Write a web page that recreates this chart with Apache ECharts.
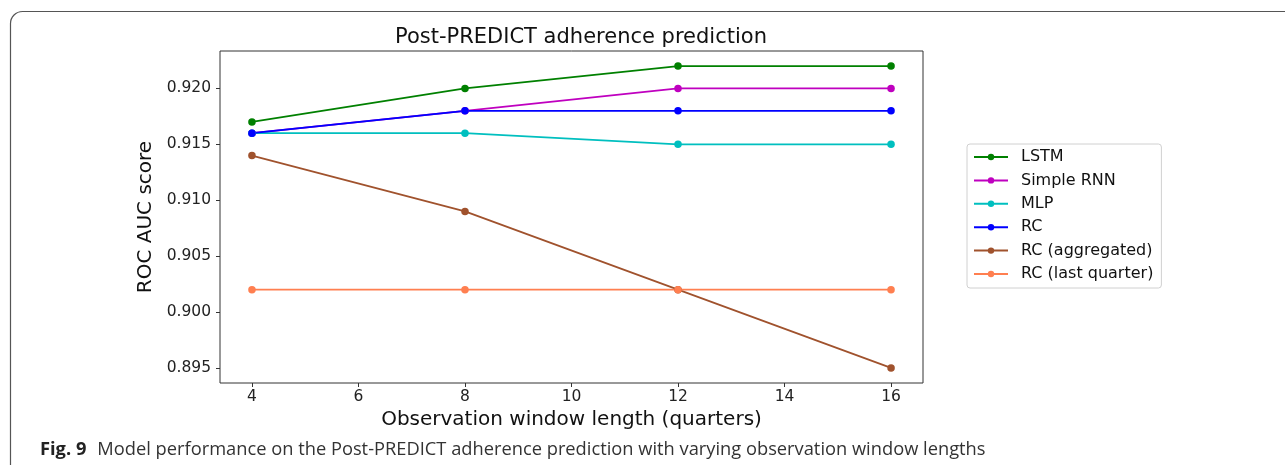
<!DOCTYPE html>
<html>
<head>
<meta charset="utf-8">
<script src="https://cdn.jsdelivr.net/npm/echarts@6/dist/echarts.min.js"></script>
<style>
  html, body { margin: 0; padding: 0; background: #fff; }
  #chart { width: 1285px; height: 465px; }
</style>
</head>
<body>
<div id="chart"></div>
<script>
// ---- data ----
var windowLengths = [4, 8, 12, 16];
var seriesNames = ['LSTM', 'Simple RNN', 'MLP', 'RC', 'RC (aggregated)', 'RC (last quarter)'];
var lstm        = [0.917, 0.920, 0.922, 0.922];
var simpleRnn   = [0.916, 0.918, 0.920, 0.920];
var mlp         = [0.916, 0.916, 0.915, 0.915];
var rc          = [0.916, 0.918, 0.918, 0.918];
var rcAgg       = [0.914, 0.909, 0.902, 0.895];
var rcLast      = [0.902, 0.902, 0.902, 0.902];
var xTicks = [4, 6, 8, 10, 12, 14, 16];
var yTicks = [0.895, 0.900, 0.905, 0.910, 0.915, 0.920];
var seriesColors = ['#008000', '#bf00bf', '#00bfbf', '#0000ff', '#a0522d', '#ff7f50'];
var seriesValues = [lstm, simpleRnn, mlp, rc, rcAgg, rcLast];

var chart = echarts.init(document.getElementById('chart'), null, { renderer: 'canvas' });

function pairs(vals) {
  return windowLengths.map(function (x, i) { return [x, vals[i]]; });
}

var series = seriesNames.map(function (name, i) {
  return {
    name: name,
    type: 'line',
    data: pairs(seriesValues[i]),
    symbol: 'circle',
    symbolSize: 7.5,
    showSymbol: true,
    clip: false,
    color: seriesColors[i],
    lineStyle: { color: seriesColors[i], width: 1.8 },
    itemStyle: { color: seriesColors[i] },
    emphasis: { disabled: true },
    animation: false
  };
});

var tickColor = '#333';
var dejavu = 'DejaVu Sans';

chart.setOption({
  animation: false,
  backgroundColor: '#fff',
  title: [
    {
      text: 'Post-PREDICT adherence prediction',
      left: 576,
      top: 22,
      textAlign: 'center',
      textStyle: { fontFamily: dejavu, fontSize: 21, fontWeight: 'normal', color: '#111' }
    },
    {
      text: '{b|Fig. 9}{n|Model performance on the Post-PREDICT adherence prediction with varying observation window lengths}',
      left: 35,
      top: 436,
      textStyle: {
        rich: {
          b: { fontFamily: 'Open Sans', fontSize: 18.3, fontWeight: 'bold', color: '#222', padding: [0, 11, 0, 0] },
          n: { fontFamily: 'Open Sans', fontSize: 18.3, fontWeight: 'normal', color: '#333' }
        }
      }
    }
  ],
  grid: {
    left: 220, top: 51, right: 362, bottom: 82,
    show: true, borderColor: tickColor, borderWidth: 1, backgroundColor: 'transparent'
  },
  legend: {
    orient: 'vertical',
    left: 967,
    top: 144,
    data: seriesNames,
    itemWidth: 34,
    itemHeight: 8,
    itemGap: 7.4,
    padding: [5, 8, 6, 6],
    borderColor: '#d0d0d0',
    borderWidth: 1,
    borderRadius: 3,
    backgroundColor: '#fff',
    selectedMode: false,
    textStyle: { fontFamily: dejavu, fontSize: 16, color: '#111', lineHeight: 16, padding: [0, 0, 0, 8] }
  },
  xAxis: {
    type: 'value',
    min: 3.4,
    max: 16.6,
    name: 'Observation window length (quarters)',
    nameLocation: 'middle',
    nameGap: 25,
    nameTextStyle: { fontFamily: dejavu, fontSize: 20, color: '#111' },
    axisLine: { show: false },
    splitLine: { show: false },
    axisTick: { show: true, length: 4, lineStyle: { color: tickColor, width: 1 }, customValues: xTicks },
    axisLabel: {
      customValues: xTicks,
      margin: 6,
      fontFamily: dejavu, fontSize: 15.5, color: '#222',
      formatter: function (v) { return String(v); }
    }
  },
  yAxis: {
    type: 'value',
    min: 0.89365,
    max: 0.92335,
    name: 'ROC AUC score',
    nameLocation: 'middle',
    nameGap: 56,
    nameTextStyle: { fontFamily: dejavu, fontSize: 20, color: '#111' },
    axisLine: { show: false },
    splitLine: { show: false },
    axisTick: { show: true, length: 4, lineStyle: { color: tickColor, width: 1 }, customValues: yTicks },
    axisLabel: {
      customValues: yTicks,
      margin: 9,
      fontFamily: dejavu, fontSize: 15.5, color: '#222',
      formatter: function (v) { return v.toFixed(3); }
    }
  },
  graphic: [
    {
      type: 'rect',
      silent: true,
      z: -1,
      shape: { x: 10.5, y: 11.5, width: 1400, height: 600, r: 12 },
      style: { fill: 'none', stroke: '#555', lineWidth: 1.2 }
    }
  ],
  series: series
});
</script>
</body>
</html>
